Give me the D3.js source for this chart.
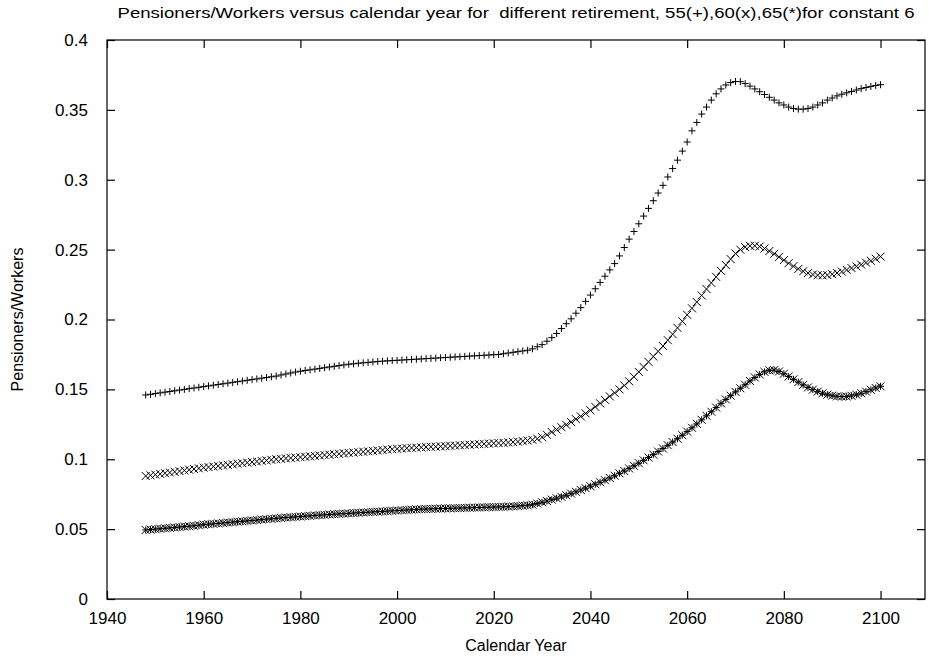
<!DOCTYPE html>
<html><head><meta charset="utf-8">
<script src="https://cdn.jsdelivr.net/npm/d3@7"></script>
<style>
html,body{margin:0;padding:0;background:#fff;}
text{font-family:"Liberation Sans",Arial,Helvetica,sans-serif;fill:#000;}
</style></head>
<body><svg id="chart" width="929" height="657"></svg>
<script>
const titleText = "Pensioners/Workers versus calendar year for  different retirement, 55(+),60(x),65(*)for constant 6";
const xLabel = "Calendar Year";
const yLabel = "Pensioners/Workers";
const xTicks = [1940,1960,1980,2000,2020,2040,2060,2080,2100];
const yTicks = [0,0.05,0.1,0.15,0.2,0.25,0.3,0.35,0.4];
const years = d3.range(1948, 2101);

// retirement at 55 (+)
const ret55 = [
.146,.1465,.147,.1475,.148,.1485,.149,.1495,.150,.1505,.151,.1515,.152,
.1525,.153,.1535,.154,.1545,.155,.1555,.156,.1565,.157,.1575,.158,.1585,.159,.1595,.1603,.161,.1617,.1624,.163,
.1635,.164,.1645,.165,.1655,.166,.1665,.167,.1675,.168,.1683,.1687,.169,.1693,.1696,.1699,.1702,.1704,.1706,.1708,
.171,.1712,.1714,.1716,.1718,.172,.1722,.1724,.1726,.1728,.173,.1732,.1734,.1736,.1738,.174,.1742,.1744,.1746,.1748,
.175,.1755,.176,.1765,.177,.1775,.178,.179,.1805,.182,.1845,.187,.190,.1935,.197,.2005,.2045,.2085,.213,.2175,
.222,.2265,.231,.2355,.240,.2455,.2515,.2575,.263,.2685,.274,.2795,.285,.2905,.296,.302,.308,.314,.3205,.327,
.335,.341,.347,.352,.357,.3615,.365,.3678,.3695,.3703,.3702,.3688,.367,.365,.363,.361,.359,.357,.355,.3535,
.352,.351,.3505,.3505,.351,.352,.3535,.355,.357,.3585,.360,.3612,.3622,.3632,.3642,.3652,.366,.3668,.3675,.368
];
// retirement at 60 (x)
const ret60 = [
.088,.0885,.089,.0895,.090,.0905,.091,.0915,.092,.0925,.093,.0935,.094,
.0944,.0948,.0952,.0956,.096,.0964,.0968,.0972,.0976,.098,.0984,.0988,.0992,.0996,.100,.1003,.1006,.1009,.1012,.1015,
.1018,.1021,.1024,.1027,.103,.1033,.1036,.1039,.1042,.1045,.1048,.1051,.1054,.1057,.106,.1063,.1066,.1069,.1072,.1075,
.1077,.1079,.1081,.1083,.1085,.1087,.1089,.109,.1092,.1094,.1096,.1098,.11,.1102,.1104,.1106,.1108,.111,.1112,.1114,
.1116,.1118,.112,.1123,.1126,.113,.1134,.1139,.1147,.1158,.1175,.1195,.1212,.1229,.1246,.1266,.1287,.1307,.1328,.135,
.1375,.140,.1425,.145,.1475,.150,.1528,.1558,.159,.1625,.166,.1697,.1735,.1772,.181,.1852,.1895,.194,.1987,.2033,
.208,.2125,.2172,.2218,.2262,.2305,.2348,.239,.2432,.2472,.25,.2518,.2527,.2528,.2522,.2508,.249,.247,.2448,.2425,
.2403,.2382,.2362,.2345,.2332,.2322,.2317,.2316,.2318,.2324,.2333,.2343,.2355,.2368,.238,.2393,.2407,.242,.2435,.245
];
// retirement at 65 (*)
const ret65 = [
.0494,.0497,.05,.0503,.0506,.0509,.0512,.0515,.0518,.0521,.0524,.0528,.0532,
.0535,.0538,.0541,.0544,.0547,.055,.0553,.0556,.0559,.0562,.0565,.0568,.0571,.0574,.0577,.058,.0583,.0585,.0588,.059,
.0593,.0595,.0598,.06,.0602,.0605,.0607,.0609,.0611,.0613,.0615,.0617,.0619,.0621,.0623,.0625,.0627,.0629,.0631,.0633,
.0635,.0637,.0639,.0641,.0643,.0644,.0645,.0646,.0647,.0648,.0649,.065,.0651,.0652,.0653,.0654,.0655,.0656,.0657,.0658,
.0659,.066,.0661,.0663,.0665,.0668,.0671,.0675,.0683,.0692,.0701,.0711,.0721,.0731,.0742,.0754,.0767,.078,.0793,.0807,
.0821,.0835,.085,.0866,.0882,.0899,.0916,.0934,.0953,.0972,.0992,.1012,.1033,.1055,.1077,.11,.1123,.1147,.1172,.1198,
.1225,.1253,.1282,.1311,.134,.137,.14,.1428,.1455,.1482,.1508,.1533,.156,.1585,.1607,.1625,.1636,.1638,.1628,.1612,
.1592,.1572,.1552,.1532,.1514,.1498,.1484,.1472,.1462,.1455,.145,.1448,.1449,.1454,.1462,.1472,.1484,.1497,.151,.1522
];

const series = [
  {values: ret55, marker: "plus"},
  {values: ret60, marker: "cross"},
  {values: ret65, marker: "star"}
];

const L = 107, R = 925, T = 40, B = 599;
const svg = d3.select("#chart");
const x = d3.scaleLinear().domain([1940, 2109.2]).range([L, R]);
const y = d3.scaleLinear().domain([0, 0.4]).range([B, T]);

// frame
svg.append("rect").attr("x", L).attr("y", T).attr("width", R - L).attr("height", B - T)
  .attr("fill", "none").attr("stroke", "#000").attr("stroke-width", 1.2);

const tl = 8;
const gx = svg.append("g").attr("transform", `translate(0,${B})`)
  .call(d3.axisBottom(x).tickValues(xTicks).tickSizeInner(-tl).tickSizeOuter(0).tickPadding(13).tickFormat(d3.format("d")));
gx.select(".domain").remove();
gx.selectAll("line").attr("stroke", "#000").attr("stroke-width", 1.2);
gx.selectAll("text").attr("font-size", 17).attr("font-family", "Liberation Sans, Arial, sans-serif");
const gxt = svg.append("g").attr("transform", `translate(0,${T})`)
  .call(d3.axisTop(x).tickValues(xTicks).tickSizeInner(-tl).tickSizeOuter(0).tickFormat(""));
gxt.select(".domain").remove();
gxt.selectAll("line").attr("stroke", "#000").attr("stroke-width", 1.2);

const gy = svg.append("g").attr("transform", `translate(${L},0)`)
  .call(d3.axisLeft(y).tickValues(yTicks).tickSizeInner(-tl).tickSizeOuter(0).tickPadding(19).tickFormat(d => d3.format("")(+d.toFixed(2))));
gy.select(".domain").remove();
gy.selectAll("line").attr("stroke", "#000").attr("stroke-width", 1.2);
gy.selectAll("text").attr("font-size", 17).attr("font-family", "Liberation Sans, Arial, sans-serif");
const gyr = svg.append("g").attr("transform", `translate(${R},0)`)
  .call(d3.axisRight(y).tickValues(yTicks).tickSizeInner(-tl).tickSizeOuter(0).tickFormat(""));
gyr.select(".domain").remove();
gyr.selectAll("line").attr("stroke", "#000").attr("stroke-width", 1.2);

// markers
function markerPath(type, px, py) {
  const sp = 3.5, sc = 4;
  const plus = `M${px - sp},${py}H${px + sp}M${px},${py - sp}V${py + sp}`;
  const cross = `M${px - sc},${py - sc}L${px + sc},${py + sc}M${px - sc},${py + sc}L${px + sc},${py - sc}`;
  if (type === "plus") return plus;
  if (type === "cross") return cross;
  return plus + cross;
}
series.forEach(sr => {
  svg.append("g").selectAll("path").data(sr.values).join("path")
    .attr("d", (v, i) => markerPath(sr.marker, x(years[i]), y(v)))
    .attr("fill", "none").attr("stroke", "#000").attr("stroke-width", 1);
});

// titles
svg.append("text").attr("x", (L + R) / 2).attr("y", 18).attr("text-anchor", "middle")
  .style("white-space", "pre")
  .attr("font-size", 15.5).attr("textLength", 797).attr("lengthAdjust", "spacingAndGlyphs").text(titleText);
svg.append("text").attr("x", (L + R) / 2).attr("y", 651).attr("text-anchor", "middle")
  .attr("font-size", 16).text(xLabel);
svg.append("text").attr("transform", `translate(23,${(T + B) / 2}) rotate(-90)`).attr("text-anchor", "middle")
  .attr("font-size", 16).text(yLabel);
</script></body></html>
